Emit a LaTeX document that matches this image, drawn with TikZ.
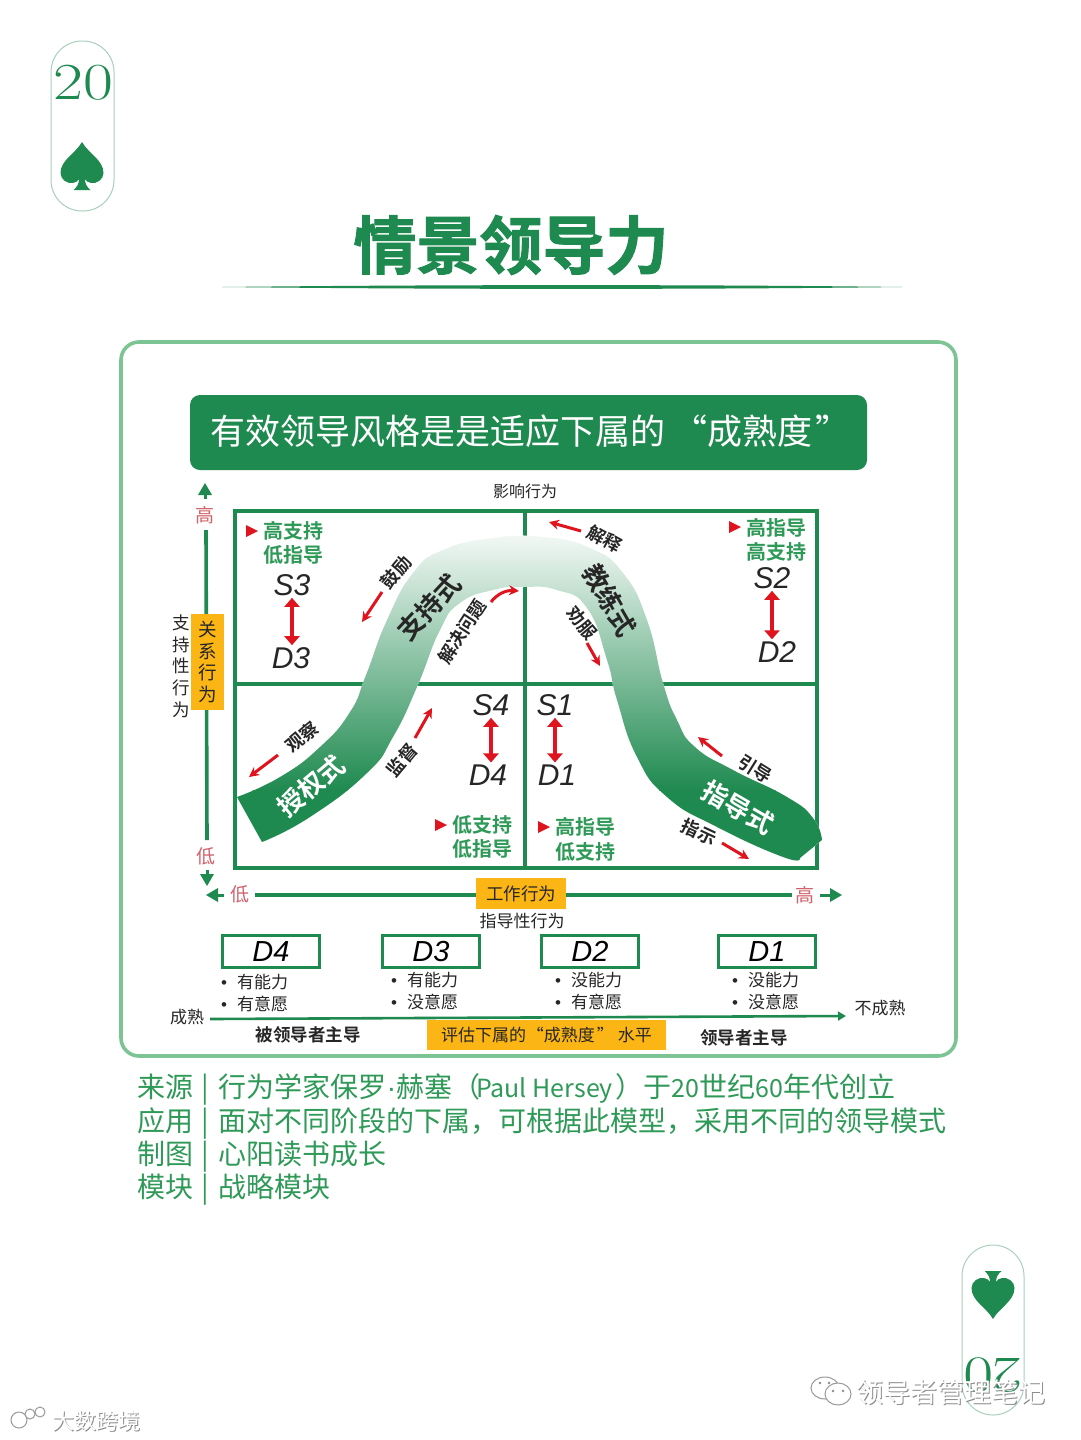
\documentclass[tikz,border=0pt]{standalone}
\usepackage{fontspec}
\usetikzlibrary{arrows.meta}
\setmainfont{Noto Sans CJK SC}[BoldFont={Noto Sans CJK SC Bold}]
\setsansfont{Noto Sans CJK SC}
\newfontfamily\titlefont[FakeBold=1.6]{Noto Sans CJK SC Bold}
\newfontfamily\handfont{Liberation Sans}[ItalicFont={Liberation Sans Italic}]
\newfontfamily\numfont{Latin Modern Roman}
\definecolor{gmain}{HTML}{1F8A50}
\definecolor{gtext}{HTML}{2F9A58}
\definecolor{gframe}{HTML}{7DC494}
\definecolor{gpill}{HTML}{A9D0BC}
\definecolor{redm}{HTML}{E0141E}
\definecolor{redl}{HTML}{D2616B}
\definecolor{amber}{HTML}{FBB615}
\definecolor{ink}{HTML}{262626}
\newcommand{\lat}[1]{{\fontsize{25}{25}\selectfont #1}}
\newcommand{\bul}{{\handfont •}\hspace{10pt}}
\newcommand{\sepbar}{\hspace{8pt}|\hspace{10pt}}
\tikzset{
  fs/.style={font=\fontsize{#1}{#1}\selectfont},
  fsb/.style={font=\fontsize{#1}{#1}\selectfont\bfseries},
  grid line/.style={draw=gmain,line width=3.6pt},
  axis line/.style={draw=gmain,line width=3.6pt},
  band label/.style={fsb=26,inner sep=0pt},
  hint/.style={fsb=18,text=ink,inner sep=0pt},
  red arrow/.style={draw=redm,line width=3pt,-{Stealth[length=10pt,width=10pt]}},
  double red/.style={draw=redm,line width=3.6pt,{Triangle[length=9pt,width=15pt]}-{Triangle[length=9pt,width=15pt]}},
  hand label/.style={font=\fontsize{30}{30}\selectfont\handfont\itshape,text=ink,inner sep=2pt},
  style text/.style={text=gtext,align=center,inner sep=0pt,font=\fontsize{20}{24.3}\selectfont\bfseries},
  red mark/.style={fill=redm,draw=none},
  amber box/.style={fill=amber,draw=none,inner sep=0pt,text=ink},
  dbox/.style={draw=gmain,line width=2.6pt,minimum width=97pt,minimum height=32pt,inner sep=0pt,font=\fontsize{29}{29}\selectfont\handfont\itshape,text=black},
  ability/.style={align=left,anchor=west,text=ink,inner sep=0pt,font=\fontsize{17}{22}\selectfont},
  info/.style={anchor=base west,text=gtext,inner sep=0pt,fs=28},
  pill/.style={draw=gpill,line width=1pt,rounded corners=31pt},
  wm/.style={inner sep=0pt},
}
\newcommand{\spadepath}{%
  (0,-24) .. controls (-6,-13) and (-21.5,-6) .. (-21.5,7)
  .. controls (-21.5,14) and (-14,18) .. (-9,17)
  .. controls (-6,16.5) and (-4,15) .. (-3,13)
  .. controls (-3,18) and (-5,21) .. (-8.5,24) -- (8.5,24)
  .. controls (5,21) and (3,18) .. (3,13)
  .. controls (4,15) and (6,16.5) .. (9,17)
  .. controls (14,18) and (21.5,14) .. (21.5,7)
  .. controls (21.5,-6) and (6,-13) .. (0,-24) -- cycle}
\newcommand{\bandpath}{%
  plot[smooth,tension=0.85] coordinates {(237,797) (280,777) (320,747) (350,712) (366,675) (387,620) (413,573) (443,550) (493,538) (543,537) (590,548) (623,573) (647,620) (663,683) (677,720) (695,747) (733,770) (787,797) (813,818) (822,840)}
  -- (800,858)
  -- plot[smooth,tension=0.85] coordinates {(800,858) (783,857) (717,827) (667,797) (637,757) (617,700) (607,660) (587,608) (557,590) (523,587) (493,590) (460,603) (440,630) (417,687) (393,737) (367,773) (310,817) (262,842)}
  -- cycle}
\begin{document}
\begin{tikzpicture}[x=1pt,y=-1pt]
\useasboundingbox (0,0) rectangle (1080,1440);
\fill[white] (0,0) rectangle (1080,1440);

% page corners
\draw[pill] (51,41) rectangle (114,211);
\node[text=gmain,inner sep=0pt,xscale=1.25,font=\fontsize{52}{52}\selectfont\numfont] (n20) at (83,83) {20};
\fill[gmain,shift={(82,166)}] \spadepath;
\draw[pill] (962,1245) rectangle (1024,1415);
\node[text=gmain,inner sep=0pt,rotate=180,xscale=1.25,font=\fontsize{52}{52}\selectfont\numfont] (n07) at (993,1375) {20};
\fill[gmain,shift={(993,1295)},yscale=-1] \spadepath;

% title
\node[text=gmain,inner sep=0pt,font=\fontsize{63}{63}\selectfont\titlefont] (title) at (511,245) {情景领导力};
\fill[gmain] (222,287) .. controls (450,284.5) and (700,284.5) .. (902,287) .. controls (700,289.5) and (450,289.5) .. (222,287) -- cycle;

% frame and banner
\draw[gframe,line width=3.6pt,rounded corners=18pt] (121,342) rectangle (956,1056);
\fill[gmain,rounded corners=10pt] (190,395) rectangle (867,470);
\node[text=white,inner sep=0pt,fs=35,anchor=west] (banner) at (210,431) {有效领导风格是是适应下属的\hspace{7pt}“成熟度\hspace{3pt}”};

% vertical axis
\node[text=redl,fs=19,inner sep=0pt] (vhigh) at (205,515) {高};
\node[text=redl,fs=19,inner sep=0pt] (vlow) at (206,856) {低};
\draw[axis line] (206,530) -- (207,840);
\fill[gmain] (205,483) -- (212,495) -- (198,495) -- cycle;
\fill[gmain] (207,886) -- (200,874) -- (214,874) -- cycle;
\draw[gmain,line width=3pt] (205,495) -- (205,499);
\draw[gmain,line width=3pt] (207,870) -- (207,874);
\node[amber box,minimum width=33pt,minimum height=96pt,align=center,font=\fontsize{18.5}{21.7}\selectfont] (relbox) at (207.5,662) {关\\系\\行\\为};
\node[text=ink,align=center,inner sep=0pt,font=\fontsize{17.5}{21.7}\selectfont] (vcap) at (181,666) {支\\持\\性\\行\\为};

% horizontal axis
\node[text=redl,fs=19,inner sep=0pt] (hlow) at (240,894) {低};
\node[text=redl,fs=19,inner sep=0pt] (hhigh) at (805,895) {高};
\draw[axis line] (255,895) -- (792,895);
\fill[gmain] (206,895) -- (218,888) -- (218,902) -- cycle;
\fill[gmain] (842,895) -- (830,888) -- (830,902) -- cycle;
\draw[gmain,line width=3pt] (218,895) -- (224,895);
\draw[gmain,line width=3pt] (820,895) -- (830,895);
\node[amber box,minimum width=90pt,minimum height=31pt,fs=17.5] (workbox) at (521,893.5) {工作行为};
\node[text=ink,fs=17,inner sep=0pt] (hcap) at (522,921) {指导性行为};
\node[text=ink,fs=16,inner sep=0pt] (tcap) at (525,491) {影响行为};

% grid
\draw[grid line] (235,511) rectangle (817,868);
\draw[grid line] (525,511) -- (525,868);
\draw[grid line] (235,684) -- (817,684);

% band
\begin{scope}
  \clip \bandpath;
  \fill[white] (225,530) rectangle (830,870);
  \shade[top color=gmain!6,bottom color=gmain] (225,536) rectangle (830,790);
  \fill[gmain] (225,789.5) rectangle (830,870);
\end{scope}
\node[band label,text=ink,rotate=47] (supS) at (429,607) {支持式};
\node[band label,text=white,rotate=40] (delS) at (311,786) {授权式};
\node[band label,text=ink,rotate=-60] (coaS) at (610,600) {教练式};
\node[band label,text=white,rotate=-30] (dirS) at (738,807) {指导式};

% quadrant style text
\node[style text] (q3) at (293,543) {高支持\\低指导};
\fill[red mark] (246,525) -- (258,531) -- (246,537) -- cycle;
\node[style text] (q2) at (776,539.5) {高指导\\高支持};
\fill[red mark] (729,521) -- (741,527) -- (729,533) -- cycle;
\node[style text] (q4) at (482,837) {低支持\\低指导};
\fill[red mark] (435,819) -- (447,825) -- (435,831) -- cycle;
\node[style text] (q1) at (585,839.5) {高指导\\低支持};
\fill[red mark] (538,821) -- (550,827) -- (538,833) -- cycle;

% S / D pairs
\node[hand label] (s3) at (292,585) {S3};
\node[hand label] (d3) at (291,658) {D3};
\draw[double red] (s3.south) -- (s3.south |- d3.north);
\node[hand label] (s2) at (772,578) {S2};
\node[hand label] (d2) at (777,652) {D2};
\draw[double red] (s2.south) -- (s2.south |- d2.north);
\node[hand label] (s4) at (491,705) {S4};
\node[hand label] (d4) at (488,775) {D4};
\draw[double red] (s4.south) -- (s4.south |- d4.north);
\node[hand label] (s1) at (555,705) {S1};
\node[hand label] (d1) at (557,775) {D1};
\draw[double red] (s1.south) -- (s1.south |- d1.north);

% hints with red arrows
\node[hint,rotate=50] (h1) at (396,572) {鼓励};
\coordinate (a1s) at (382,592); \coordinate (a1e) at (362,622);
\draw[red arrow] (a1s) -- (a1e);
\node[hint,rotate=40] (h2) at (302,737) {观察};
\coordinate (a2s) at (278,755); \coordinate (a2e) at (249,777);
\draw[red arrow] (a2s) -- (a2e);
\node[hint,rotate=50] (h3) at (402,760) {监督};
\coordinate (a3s) at (415,738); \coordinate (a3e) at (432,708);
\draw[red arrow] (a3s) -- (a3e);
\node[hint,rotate=57] (h4) at (462,632) {解决问题};
\coordinate (a4s) at (491,602); \coordinate (a4e) at (519,591);
\draw[red arrow] (a4s) .. controls (497,594) and (506,590) .. (a4e);
\node[hint,rotate=-29] (h5) at (605,539) {解释};
\coordinate (a5s) at (581,531); \coordinate (a5e) at (549,522);
\draw[red arrow] (a5s) -- (a5e);
\node[hint,rotate=-50] (h6) at (582,623) {劝服};
\coordinate (a6s) at (587,643); \coordinate (a6e) at (600,666);
\draw[red arrow] (a6s) -- (a6e);
\node[hint,rotate=-32] (h7) at (755,769) {引导};
\coordinate (a7s) at (722,756); \coordinate (a7e) at (698,737);
\draw[red arrow] (a7s) -- (a7e);
\node[hint,rotate=-25] (h8) at (699,832) {指示};
\coordinate (a8s) at (722,843); \coordinate (a8e) at (749,859);
\draw[red arrow] (a8s) -- (a8e);

% maturity boxes
\node[dbox] (bd4) at (271,951.5) {D4};
\node[dbox] (bd3) at (431,951.5) {D3};
\node[dbox] (bd2) at (590,951.5) {D2};
\node[dbox] (bd1) at (767,951.5) {D1};
\node[ability] (l4) at (221,993) {\bul 有能力\\\bul 有意愿};
\node[ability] (l3) at (391,991) {\bul 有能力\\\bul 没意愿};
\node[ability] (l2) at (555,991) {\bul 没能力\\\bul 有意愿};
\node[ability] (l1) at (732,991) {\bul 没能力\\\bul 没意愿};

% maturity axis
\node[text=ink,fs=17,inner sep=1pt] (mat) at (187,1017) {成熟};
\node[text=ink,fs=17,inner sep=1pt] (imm) at (880,1008) {不成熟};
\coordinate (mate) at (846,1016);
\draw[gmain,line width=2.6pt,-{Triangle[length=8pt,width=9pt]}] (mat.east) ++(5,2) -- (mate);
\node[amber box,minimum width=239pt,minimum height=30pt,fs=17] (evalbox) at (546.5,1035) {评估下属的\hspace{1pt}“成熟度\hspace{2pt}”\hspace{4pt}水平};
\node[text=ink,fsb=17.5,inner sep=0pt] (fol) at (308,1035) {被领导者主导};
\node[text=ink,fsb=17.5,inner sep=0pt] (lea) at (744,1038) {领导者主导};

% info lines
\node[info] (i1) at (137,1097) {来源\sepbar 行为学家保罗{\handfont ·}赫塞（\hspace{-4pt}\lat{Paul Hersey }\hspace{-3pt}）于\lat{20}世纪\lat{60}年代创立};
\node[info] (i2) at (137,1131) {应用\sepbar 面对不同阶段的下属，可根据此模型，采用不同的领导模式};
\node[info] (i3) at (137,1164) {制图\sepbar 心阳读书成长};
\node[info] (i4) at (137,1197) {模块\sepbar 战略模块};

% watermarks
\node[wm,text=black!45,fs=27] (w1s) at (952,1393) {领导者管理笔记};
\node[wm,text=white,fs=27] (w1) at (951,1392) {领导者管理笔记};
\draw[black!40,fill=white,line width=1pt] (825,1388) ellipse (14pt and 11pt);
\draw[black!40,fill=white,line width=1pt] (838,1394) ellipse (13pt and 11pt);
\fill[black!45] (820,1383) circle (1.3pt) (829,1383) circle (1.3pt) (833,1391) circle (1.3pt) (843,1391) circle (1.3pt);
\node[wm,text=black!45,fs=22] (w2s) at (97,1422) {大数跨境};
\node[wm,text=white,fs=22] (w2) at (96,1421) {大数跨境};
\draw[black!40,fill=white,line width=1pt] (19,1420) circle (8pt);
\draw[black!40,fill=white,line width=1pt] (30,1414) circle (5pt);
\draw[black!40,fill=white,line width=1pt] (40,1412) circle (5pt);
\end{tikzpicture}
\end{document}
